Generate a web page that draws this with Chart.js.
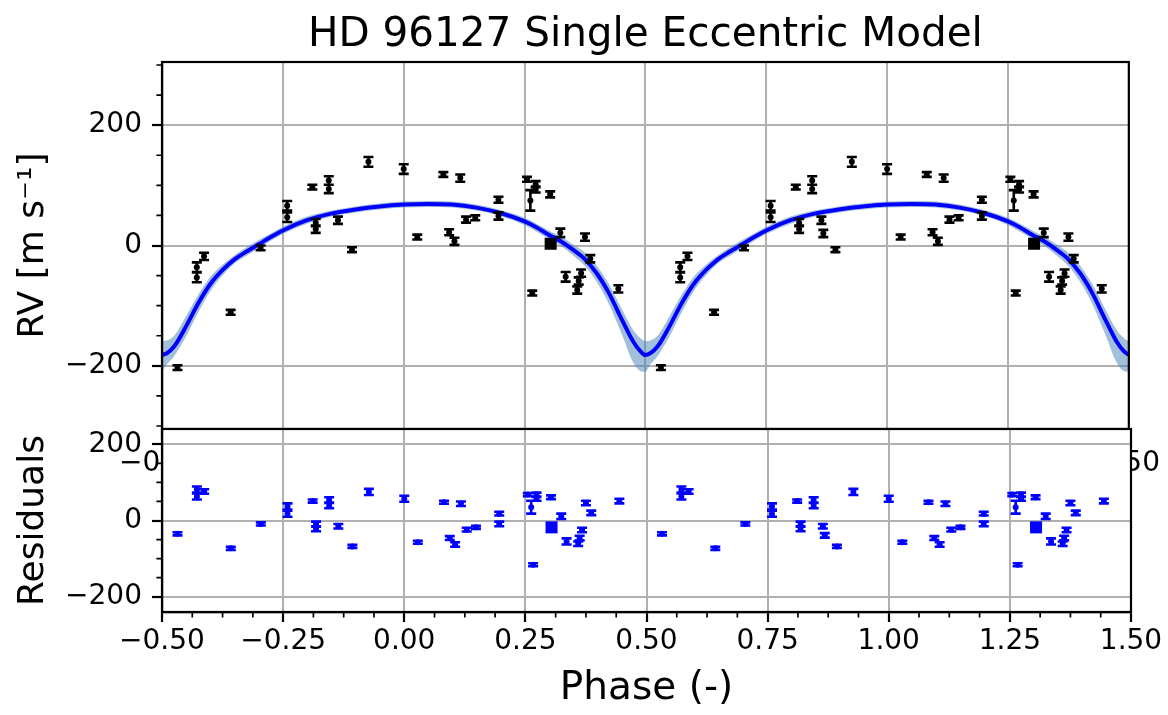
<!DOCTYPE html>
<html>
<head>
<meta charset="utf-8">
<title>HD 96127 Single Eccentric Model</title>
<script src="https://cdn.jsdelivr.net/npm/chart.js@4/dist/chart.umd.min.js"></script>
<style>
  html, body { margin: 0; padding: 0; background: #fff; }
  #wrap { position: relative; width: 1168px; height: 715px; }
  .layer { position: absolute; left: 0; top: 0; width: 1168px; height: 715px; }
</style>
</head>
<body>
<div id="wrap">
  <div class="layer"><canvas id="rvChart"></canvas></div>
  <div class="layer"><canvas id="resChart"></canvas></div>
</div>
<script>
// ---- data ----
const xTicks = [-0.5, -0.25, 0, 0.25, 0.5, 0.75, 1, 1.25, 1.5];
const xTickLabels = ['\u22120.50', '\u22120.25', '0.00', '0.25', '0.50', '0.75', '1.00', '1.25', '1.50'];
const rvTicks = [-200, 0, 200];
const rvTickLabels = ['\u2212200', '0', '200'];
const resTicks = [-200, 0, 200];
const resTickLabels = ['\u2212200', '0', '200'];

// observations, both plotted cycles
const phase = [
  -0.468, -0.428, -0.428, -0.413, -0.358, -0.296, -0.241, -0.241, -0.189, -0.182, -0.182,
  -0.155, -0.155, -0.136, -0.107, -0.073, 0.000, 0.028, 0.082, 0.094, 0.105, 0.117,
  0.129, 0.148, 0.196, 0.196, 0.255, 0.262, 0.266, 0.273, 0.273, 0.303, 0.304,
  0.324, 0.335, 0.359, 0.362, 0.367, 0.375, 0.386, 0.444,
  0.532, 0.572, 0.572, 0.587, 0.642, 0.704, 0.759, 0.759, 0.811, 0.818, 0.818,
  0.845, 0.845, 0.864, 0.868, 0.893, 0.927, 1.000, 1.028, 1.082, 1.094, 1.105, 1.117,
  1.129, 1.148, 1.196, 1.196, 1.255, 1.262, 1.266, 1.273, 1.273, 1.303, 1.304,
  1.324, 1.335, 1.359, 1.362, 1.367, 1.375, 1.386, 1.444
];
const rv = [
  -203, -36, -53, -18, -111, -4, 66, 47, 97, 38, 27,
  108, 94, 42, -7, 139, 127, 14, 118, 22, 7, 112,
  43, 46, 76, 49, 110, 75, -79, 102, 93, 85, 3,
  21, -52, -74, -59, -46, 14, -22, -72,
  -203, -36, -53, -18, -111, -4, 66, 47, 97, 38, 27,
  108, 94, 42, 20, -7, 139, 127, 14, 118, 22, 7, 112,
  43, 46, 76, 49, 110, 75, -79, 102, 93, 85, 3,
  21, -52, -74, -59, -46, 14, -22, -72
];
const rvErr = [
  4, 8, 8, 6, 4, 4, 8, 8, 4, 6, 6,
  7, 7, 6, 4, 8, 8, 4, 4, 5, 6, 6,
  5, 4, 5, 6, 4, 17, 4, 5, 5, 5, 6,
  7, 8, 6, 6, 6, 6, 6, 6,
  4, 8, 8, 6, 4, 4, 8, 8, 4, 6, 6,
  7, 7, 6, 6, 4, 8, 8, 4, 4, 5, 6, 6,
  5, 4, 5, 6, 4, 17, 4, 5, 5, 5, 6,
  7, 8, 6, 6, 6, 6, 6, 6
];
const resid = [
  -35, 81, 63, 76, -73, -9, 37, 18, 51, -9, -22,
  54, 39, -15, -68, 75, 57, -57, 48, -46, -63, 44,
  -24, -18, 18, -9, 68, 35, -116, 68, 57, 61, -18,
  11, -55, -61, -46, -25, 46, 20, 51,
  -35, 81, 63, 76, -73, -9, 37, 18, 51, -9, -22,
  54, 39, -15, -39, -68, 75, 57, -57, 48, -46, -63, 44,
  -24, -18, 18, -9, 68, 35, -116, 68, 57, 61, -18,
  11, -55, -61, -46, -25, 46, 20, 51
];
// phases drawn with the big square marker
const squarePhase = [0.304, 1.304];

// best-fit model and its uncertainty band
const curvePhase = [
  -0.5, -0.49, -0.475, -0.45, -0.425, -0.4, -0.375, -0.35, -0.325, -0.3, -0.275, -0.25,
  -0.2, -0.15, -0.1, -0.05, 0, 0.05, 0.1, 0.15, 0.2, 0.25, 0.275, 0.3, 0.325, 0.35,
  0.375, 0.4, 0.425, 0.45, 0.475, 0.49, 0.5,
  0.51, 0.525, 0.55, 0.575, 0.6, 0.625, 0.65, 0.675, 0.7, 0.725, 0.75,
  0.8, 0.85, 0.9, 0.95, 1.0, 1.05, 1.1, 1.15, 1.2, 1.25, 1.275, 1.3, 1.325, 1.35,
  1.375, 1.4, 1.425, 1.45, 1.475, 1.49, 1.5
];
const curveRV = [
  -182, -179, -168, -134, -96, -64, -41, -23, -10, 2, 14, 25,
  42, 53, 60, 65, 68, 69, 68, 63, 54, 40, 30, 18, 7, -7,
  -23, -47, -80, -121, -160, -176, -182,
  -179, -168, -134, -96, -64, -41, -23, -10, 2, 14, 25,
  42, 53, 60, 65, 68, 69, 68, 63, 54, 40, 30, 18, 7, -7,
  -23, -47, -80, -121, -160, -176, -182
];
const bandHi = [
  -159, -158, -150, -117, -82, -52, -32, -16, -3, 9, 20, 31,
  48, 58, 65, 70, 73, 74, 73, 68, 59, 46, 36, 25, 15, 2,
  -12, -34, -65, -104, -141, -154, -159,
  -158, -150, -117, -82, -52, -32, -16, -3, 9, 20, 31,
  48, 58, 65, 70, 73, 74, 73, 68, 59, 46, 36, 25, 15, 2,
  -12, -34, -65, -104, -141, -154, -159
];
const bandLo = [
  -210, -198, -184, -151, -111, -76, -50, -30, -17, -5, 8, 19,
  36, 48, 55, 60, 63, 64, 63, 58, 49, 34, 23, 11, -1, -16,
  -34, -61, -98, -145, -195, -209, -210,
  -198, -184, -151, -111, -76, -50, -30, -17, -5, 8, 19,
  36, 48, 55, 60, 63, 64, 63, 58, 49, 34, 23, 11, -1, -16,
  -34, -61, -98, -145, -195, -209, -210
];

// ---- drawing ----
const FONT = "'DejaVu Sans', sans-serif";
Chart.defaults.font.family = FONT;
Chart.defaults.color = '#000';

const GRID = '#b0b0b0';
const pts = (xs, ys) => xs.map((x, i) => ({x: x, y: ys[i]}));
const isSquare = p => squarePhase.includes(p);

// vertical error bars with caps
const errorBars = {
  id: 'errorBars',
  afterDatasetsDraw(chart) {
    const ctx = chart.ctx;
    const xs = chart.scales.x, ys = chart.scales.y;
    chart.data.datasets.forEach(ds => {
      if (!ds.errors) return;
      ctx.save();
      ctx.strokeStyle = ds.borderColor;
      ctx.lineWidth = 2.6;
      ctx.beginPath();
      ds.data.forEach((p, j) => {
        const px = xs.getPixelForValue(p.x);
        const y1 = ys.getPixelForValue(p.y - ds.errors[j]);
        const y2 = ys.getPixelForValue(p.y + ds.errors[j]);
        ctx.moveTo(px, y1); ctx.lineTo(px, y2);
        ctx.moveTo(px - 5, y1); ctx.lineTo(px + 5, y1);
        ctx.moveTo(px - 5, y2); ctx.lineTo(px + 5, y2);
      });
      ctx.stroke();
      ctx.restore();
    });
  }
};

// white plot face, full box, minor ticks and the figure title
const frame = {
  id: 'frame',
  beforeDraw(chart, args, opts) {
    if (!opts.fill) return;
    const a = chart.chartArea;
    chart.ctx.save();
    chart.ctx.fillStyle = '#fff';
    chart.ctx.fillRect(a.left, a.top, a.right - a.left, a.bottom - a.top);
    chart.ctx.restore();
  },
  afterDraw(chart, args, opts) {
    const ctx = chart.ctx, a = chart.chartArea;
    ctx.save();
    ctx.strokeStyle = '#000';
    ctx.lineWidth = 1.7;
    ctx.beginPath();
    (opts.yMinor || []).forEach(v => {
      const y = chart.scales.y.getPixelForValue(v);
      ctx.moveTo(a.left - 5.6, y); ctx.lineTo(a.left, y);
    });
    (opts.xMinor || []).forEach(v => {
      const x = chart.scales.x.getPixelForValue(v);
      ctx.moveTo(x, a.bottom); ctx.lineTo(x, a.bottom + 5.6);
    });
    ctx.stroke();
    ctx.lineWidth = 2.2;
    ctx.strokeRect(a.left, a.top, a.right - a.left, a.bottom - a.top);
    if (opts.title) {
      ctx.fillStyle = '#000';
      ctx.font = '40.5px ' + FONT;
      ctx.textAlign = 'center';
      ctx.textBaseline = 'alphabetic';
      ctx.fillText(opts.title, (a.left + a.right) / 2, 46);
    }
    ctx.restore();
  }
};

const xMinor = [];
for (let v = -0.5; v <= 1.5001; v += 0.0625) {
  if (Math.abs(v * 4 - Math.round(v * 4)) > 1e-6) xMinor.push(v);
}

function xScale(height, labelPad) {
  return {
    type: 'linear', min: -0.5, max: 1.5,
    afterBuildTicks: s => { s.ticks = xTicks.map(v => ({value: v})); },
    afterFit: s => { s.height = height; },
    ticks: {
      autoSkip: false, maxRotation: 0, padding: labelPad,
      font: {size: 28},
      callback: v => xTickLabels[xTicks.indexOf(v)]
    },
    grid: {color: GRID, lineWidth: 2, tickColor: '#000', tickLength: 10, tickWidth: 2.2},
    border: {color: '#000', width: 2.2}
  };
}

function yScale(lim, ticks, labels, title) {
  return {
    type: 'linear', min: -lim, max: lim,
    afterBuildTicks: s => { s.ticks = ticks.map(v => ({value: v})); },
    afterFit: s => { s.width = 162; },
    ticks: {
      padding: 10, font: {size: 28},
      callback: v => labels[ticks.indexOf(v)]
    },
    title: {display: true, text: title, font: {size: 36}, padding: {top: 12, bottom: 0}},
    grid: {color: GRID, lineWidth: 2, tickColor: '#000', tickLength: 10, tickWidth: 2.2},
    border: {color: '#000', width: 2.2}
  };
}

function markerStyle(color) {
  return {
    borderColor: color, backgroundColor: color, pointBorderWidth: 0,
    pointStyle: c => (c.raw && isSquare(c.raw.x)) ? 'rect' : 'circle',
    pointRadius: c => (c.raw && isSquare(c.raw.x)) ? 8.5 : 3
  };
}

new Chart(document.getElementById('rvChart'), {
  type: 'scatter',
  data: {
    datasets: [
      Object.assign({data: pts(phase, rv), errors: rvErr}, markerStyle('#000')),
      {
        data: pts(curvePhase, curveRV), showLine: true,
        borderColor: '#0000ff', borderWidth: 4, pointRadius: 0,
        cubicInterpolationMode: 'monotone'
      },
      {
        data: pts(curvePhase, bandHi), showLine: true,
        borderWidth: 0, borderColor: 'rgba(0,0,0,0)', pointRadius: 0,
        cubicInterpolationMode: 'monotone',
        fill: '+1', backgroundColor: 'rgba(70,130,180,0.5)'
      },
      {
        data: pts(curvePhase, bandLo), showLine: true,
        borderWidth: 0, borderColor: 'rgba(0,0,0,0)', pointRadius: 0,
        cubicInterpolationMode: 'monotone'
      }
    ]
  },
  options: {
    responsive: true, maintainAspectRatio: false, animation: false, events: [],
    layout: {padding: {left: 0, right: 37, top: 62, bottom: 226}},
    scales: {
      x: xScale(60, 8),
      y: yScale(305, rvTicks, rvTickLabels, 'RV [m s\u207B\u00B9]')
    },
    plugins: {
      legend: {display: false}, tooltip: {enabled: false},
      frame: {yMinor: [-300, -250, -150, -100, -50, 50, 100, 150, 250, 300],
              title: 'HD 96127 Single Eccentric Model'}
    }
  },
  plugins: [frame, errorBars]
});

new Chart(document.getElementById('resChart'), {
  type: 'scatter',
  data: {
    datasets: [
      Object.assign({data: pts(phase, resid), errors: rvErr}, markerStyle('#0000ff'))
    ]
  },
  options: {
    responsive: true, maintainAspectRatio: false, animation: false, events: [],
    layout: {padding: {left: 0, right: 37, top: 429, bottom: 0}},
    scales: {
      x: Object.assign(xScale(103, 3), {
        title: {display: true, text: 'Phase (-)', font: {size: 39}, padding: {top: 0, bottom: 3}}
      }),
      y: yScale(240, resTicks, resTickLabels, 'Residuals')
    },
    plugins: {
      legend: {display: false}, tooltip: {enabled: false},
      frame: {fill: true, yMinor: [-150, -100, -50, 50, 100, 150], xMinor: xMinor}
    }
  },
  plugins: [frame, errorBars]
});
</script>
</body>
</html>
